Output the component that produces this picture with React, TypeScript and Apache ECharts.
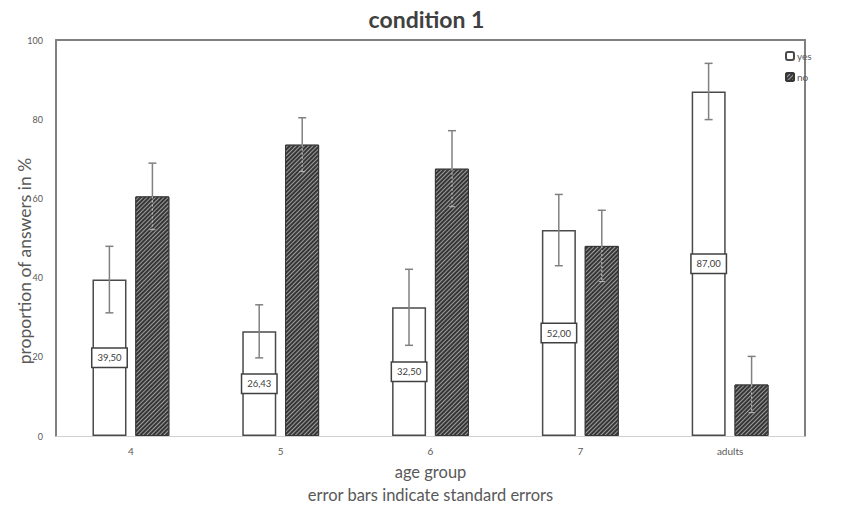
import React, { useEffect, useRef } from "react";
import * as echarts from "echarts";

const categories = ["4", "5", "6", "7", "adults"];
const yesValues = [39.5, 26.43, 32.5, 52.0, 87.0];
const noValues = [60.5, 73.57, 67.5, 48.0, 13.0];
const yesErrors = [8.4, 6.7, 9.6, 9.0, 7.1];
const noErrors = [8.4, 6.8, 9.6, 9.0, 7.1];
const yTicks = [0, 20, 40, 60, 80, 100];

const FONT = "Lato, 'Open Sans', sans-serif";
const BAR_W = 34;
const BAR_OFFSET = 21.5;

export default function App() {
  const ref = useRef<HTMLDivElement>(null);
  useEffect(() => {
    if (!ref.current) return;
    const chart = echarts.init(ref.current, null, { renderer: "svg" });

    const makeErr = (name: string, values: number[], errs: number[], sign: number, inside: boolean) => ({
      type: "custom",
      name: name + "_err",
      z: 10,
      silent: true,
      data: values.map((v, i) => [i, v, errs[i]]),
      renderItem: (params: any, api: any) => {
        const idx = api.value(0);
        const v = api.value(1);
        const e = api.value(2);
        const c = api.coord([idx, v]);
        const top = api.coord([idx, v + e]);
        const bot = api.coord([idx, v - e]);
        const x = c[0] + sign * BAR_OFFSET;
        const color = "#808080";
        return {
          type: "group",
          children: [
            { type: "line", shape: { x1: x, y1: top[1], x2: x, y2: c[1] }, style: { stroke: color, lineWidth: 1.5 } },
            {
              type: "line",
              shape: { x1: x, y1: c[1], x2: x, y2: bot[1] },
              style: inside
                ? { stroke: "#bbbbbb", lineWidth: 1.2, lineDash: [2, 2] }
                : { stroke: color, lineWidth: 1.5 },
            },
            { type: "line", shape: { x1: x - 4, y1: top[1], x2: x + 4, y2: top[1] }, style: { stroke: color, lineWidth: 1.5 } },
            inside
              ? { type: "line", shape: { x1: x - 3, y1: bot[1], x2: x + 3, y2: bot[1] }, style: { stroke: "#bbbbbb", lineWidth: 1 } }
              : { type: "line", shape: { x1: x - 4, y1: bot[1], x2: x + 4, y2: bot[1] }, style: { stroke: color, lineWidth: 1.5 } },
          ],
        };
      },
    });

    const option: any = {
      animation: false,
      backgroundColor: "#ffffff",
      title: {
        text: "condition 1",
        left: "center",
        top: 2,
        textStyle: { fontFamily: FONT, fontSize: 23, fontWeight: "bold", color: "#404040" },
      },
      legend: {
        orient: "vertical",
        left: 780,
        top: 46,
        itemWidth: 8,
        itemHeight: 8,
        itemGap: 11,
        data: ["yes", "no"],
        textStyle: { fontFamily: FONT, fontSize: 10, color: "#595959", padding: [0, 0, 0, -2] },
      },
      grid: { left: 56, right: 48, top: 40, bottom: 69, outerBoundsMode: "none", containLabel: false },
      xAxis: [
        {
          type: "category",
          data: categories,
          axisLine: { lineStyle: { color: "#d0d0d0", width: 1 } },
          axisTick: { show: false },
          axisLabel: { fontFamily: FONT, fontSize: 10, color: "#595959", margin: 10 },
          name: "age group\nerror bars indicate standard errors",
          nameLocation: "middle",
          nameGap: 16,
          nameTextStyle: { fontFamily: FONT, fontSize: 16.5, color: "#595959", lineHeight: 23, verticalAlign: "top" },
        },
        {
          type: "category",
          data: categories,
          position: "top",
          axisLine: { show: true, onZero: false, lineStyle: { color: "#808080", width: 2 } },
          axisTick: { show: false },
          axisLabel: { show: false },
        },
      ],
      yAxis: [
        {
          type: "value",
          min: 0,
          max: 100,
          interval: 20,
          axisLine: { show: true, lineStyle: { color: "#808080", width: 2 } },
          axisTick: { show: false },
          splitLine: { show: false },
          axisLabel: {
            fontFamily: FONT,
            fontSize: 9,
            color: "#595959",
            margin: 13,
            formatter: (v: number) => (yTicks.includes(v) ? String(v) : ""),
          },
        },
        {
          type: "value",
          min: 0,
          max: 100,
          interval: 20,
          position: "right",
          axisLine: { show: true, onZero: false, lineStyle: { color: "#808080", width: 2 } },
          axisTick: { show: false },
          splitLine: { show: false },
          axisLabel: { show: false },
        },
      ],
      graphic: [
        {
          type: "text",
          x: 24,
          y: 261,
          rotation: Math.PI / 2,
          style: {
            text: "proportion of answers in %",
            fontFamily: FONT,
            fontSize: 17.5,
            fill: "#595959",
            align: "center",
            verticalAlign: "middle",
          },
        },
      ],
      series: [
        {
          type: "bar",
          name: "yes",
          data: yesValues,
          barWidth: BAR_W,
          barGap: "26%",
          itemStyle: { color: "#ffffff", borderColor: "#4a4a4a", borderWidth: 1.5 },
          label: {
            show: true,
            position: "inside",
            formatter: (p: any) => p.value.toFixed(2).replace(".", ","),
            fontFamily: FONT,
            fontSize: 9.5,
            color: "#404040",
            backgroundColor: "#ffffff",
            borderColor: "#404040",
            borderWidth: 1.5,
            width: 30,
            align: "center",
            padding: [4, 2],
          },
        },
        {
          type: "bar",
          name: "no",
          data: noValues,
          barWidth: BAR_W,
          itemStyle: {
            color: "#363636",
            borderColor: "#363636",
            borderWidth: 1,
            decal: {
              symbol: "rect",
              symbolSize: 1,
              color: "rgba(190,190,190,0.75)",
              dashArrayX: [1, 0],
              dashArrayY: [1, 2],
              rotation: -Math.PI / 4,
            },
          },
        },
        makeErr("yes", yesValues, yesErrors, -1, false),
        makeErr("no", noValues, noErrors, 1, true),
      ],
    };
    chart.setOption(option);
    return () => chart.dispose();
  }, []);
  return <div ref={ref} style={{ width: 853, height: 505, position: "absolute", left: 0, top: 0 }} />;
}
